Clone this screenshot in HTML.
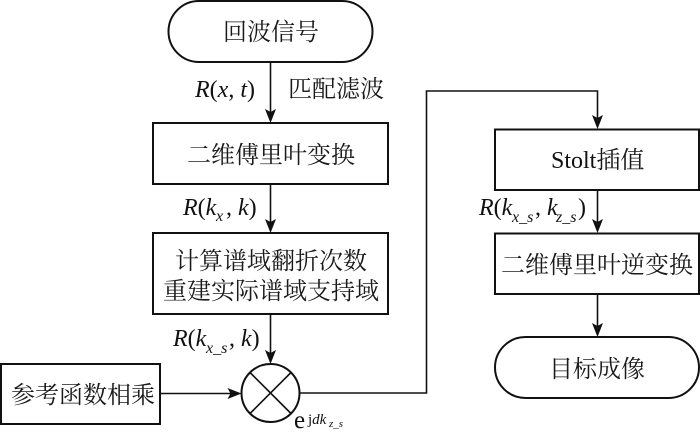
<!DOCTYPE html>
<html><head><meta charset="utf-8">
<style>
html,body{margin:0;padding:0;background:#fff}
svg{display:block}
.c{font-family:"Noto Serif CJK SC","Liberation Serif",serif;font-size:24px;fill:#1a1a1a;text-anchor:middle}
.m{font-family:"Liberation Serif",serif;font-size:24px;fill:#111}
.i{font-style:italic}
.s{font-family:"Liberation Serif",serif;font-style:italic;font-size:16px;fill:#111}
.b{fill:#fff;stroke:#111;stroke-width:2}
.l{fill:none;stroke:#111;stroke-width:1.6}
.a{fill:#111}
</style></head><body>
<svg width="700" height="435" viewBox="0 0 700 435" xmlns="http://www.w3.org/2000/svg">
<rect class="b" x="168.500" y="1" width="204" height="61" rx="30.500"/>
<rect class="b" x="153" y="123" width="235" height="61"/>
<rect class="b" x="153" y="233" width="235" height="81"/>
<rect class="b" x="1" y="364" width="159" height="60"/>
<rect class="b" x="495" y="129.500" width="204" height="60.500"/>
<rect class="b" x="495" y="233.500" width="204" height="60.500"/>
<rect class="b" x="495" y="337" width="204" height="61" rx="30.500"/>
<circle class="b" cx="270.500" cy="393" r="29"/>
<path class="l" d="M250 372.500L291 413.500M291 372.500L250 413.500"/>
<path class="l" d="M270.500 62V120M270.500 184V230M270.500 314V361M160 393.500H238M299.500 393H426.500V91H597.500V126M597.500 190V230M597.500 294V334"/>
<path class="a" d="M270.500 123l-5.500 -14 5.500 3 5.500 -3z"/>
<path class="a" d="M270.500 233l-5.500 -14 5.500 3 5.500 -3z"/>
<path class="a" d="M270.500 364l-5.500 -14 5.500 3 5.500 -3z"/>
<path class="a" d="M241.500 393.500l-14 -5.500 3 5.500 -3 5.500z"/>
<path class="a" d="M597.500 129l-5.500 -14 5.500 3 5.500 -3z"/>
<path class="a" d="M597.500 233l-5.500 -14 5.500 3 5.500 -3z"/>
<path class="a" d="M597.500 337l-5.500 -14 5.500 3 5.500 -3z"/>
<text class="c" x="271" y="40">回波信号</text>
<text class="c" x="271" y="163">二维傅里叶变换</text>
<text class="c" x="271" y="269">计算谱域翻折次数</text>
<text class="c" x="271" y="299">重建实际谱域支持域</text>
<text class="c" x="83" y="403">参考函数相乘</text>
<text class="c" x="597" y="377">目标成像</text>
<text class="c" x="597" y="273">二维傅里叶逆变换</text>
<text class="c" x="336" y="97">匹配滤波</text>
<text x="551" y="168" class="m">Stolt<tspan class="c" style="text-anchor:start">插值</tspan></text>
<text class="m" x="195" y="97"><tspan class="i">R</tspan>(<tspan class="i">x</tspan>, <tspan class="i">t</tspan>)</text>
<text class="m" x="183" y="215"><tspan class="i">R</tspan>(<tspan class="i">k</tspan></text>
<text class="s" x="216" y="221">x</text>
<text class="m" x="226" y="215">, <tspan class="i">k</tspan>)</text>
<text class="m" x="173" y="346"><tspan class="i">R</tspan>(<tspan class="i">k</tspan></text>
<text class="s" x="206" y="353">x_s</text>
<text class="m" x="229" y="346">, <tspan class="i">k</tspan>)</text>
<text class="m" x="479" y="215"><tspan class="i">R</tspan>(<tspan class="i">k</tspan></text>
<text class="s" x="512" y="222">x_s</text>
<text class="m" x="535" y="215">, <tspan class="i">k</tspan></text>
<text class="s" x="556" y="222">z_s</text>
<text class="m" x="578" y="215">)</text>
<text class="m" x="294" y="428" style="font-size:25px">e</text>
<text class="s" x="308" y="424" style="font-size:15px"><tspan style="font-style:normal">j</tspan>dk</text>
<text class="s" x="329" y="427" style="font-size:11px">z_s</text>
</svg>
</body></html>
